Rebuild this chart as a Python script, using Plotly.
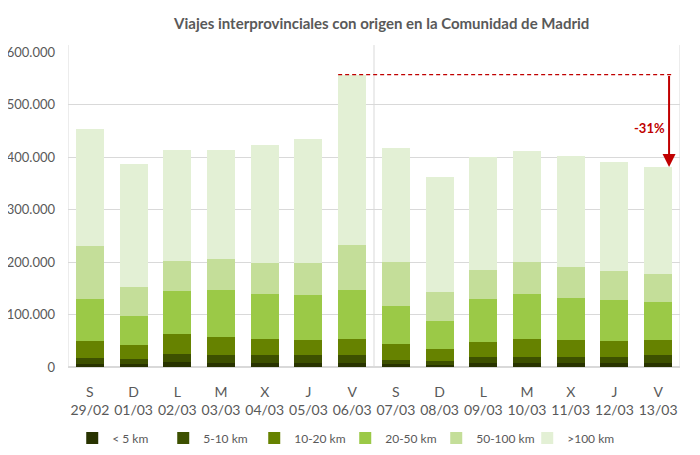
import plotly.graph_objects as go

# viajes por tramo de distancia, dia a dia
dias = ["S<br>29/02", "D<br>01/03", "L<br>02/03", "M<br>03/03", "X<br>04/03",
        "J<br>05/03", "V<br>06/03", "S<br>07/03", "D<br>08/03", "L<br>09/03",
        "M<br>10/03", "X<br>11/03", "J<br>12/03", "V<br>13/03"]

menos_5 = [5000, 5000, 9000, 7000, 7000, 7000, 7000, 5000, 3000, 7000, 7000, 7000, 7000, 7000]
de_5_10 = [13000, 11000, 16000, 16000, 15000, 15000, 15000, 9000, 9000, 13000, 13000, 13000, 13000, 15000]
de_10_20 = [32000, 25000, 37000, 35000, 32000, 30000, 32000, 29000, 23000, 28000, 34000, 32000, 30000, 30000]
de_20_50 = [80000, 57000, 83000, 89000, 86000, 86000, 93000, 74000, 53000, 82000, 86000, 80000, 78000, 72000]
de_50_100 = [100000, 55000, 56000, 59000, 59000, 61000, 86000, 83000, 55000, 55000, 60000, 59000, 55000, 54000]
mas_100 = [224000, 234000, 213000, 208000, 224000, 236000, 324000, 218000, 219000, 215000, 212000, 211000, 208000, 203000]

series = [
    ("< 5 km", menos_5, "#283300"),
    ("5-10 km", de_5_10, "#3d5000"),
    ("10-20 km", de_10_20, "#668200"),
    ("20-50 km", de_20_50, "#9bc947"),
    ("50-100 km", de_50_100, "#c4de99"),
    (">100 km", mas_100, "#e3f0d5"),
]

x = list(range(len(dias)))
totales = [sum(v) for v in zip(menos_5, de_5_10, de_10_20, de_20_50, de_50_100, mas_100)]

fig = go.Figure()
for nombre, valores, color in series:
    fig.add_trace(go.Bar(x=x, y=valores, name=nombre, marker_color=color,
                         marker_line_width=0))

gris = "#595959"
red = "#c00000"
pico = totales[6]
ultimo = totales[-1]

# page body has an 8px margin, so the figure is drawn 8px smaller
fig.update_layout(
    barmode="stack",
    bargap=0.36,
    width=692, height=447,
    margin=dict(l=60, r=20, t=44, b=88, autoexpand=False),
    paper_bgcolor="white", plot_bgcolor="white",
    separators=",.",
    font=dict(family="Lato", size=13, color=gris),
    title=dict(text="<b>Viajes interprovinciales con origen en la Comunidad de Madrid</b>",
               x=0.54, xanchor="center", y=0.965, yanchor="middle",
               font=dict(size=15, color=gris)),
    xaxis=dict(tickmode="array", tickvals=x, ticktext=dias, range=[-0.5, 13.5],
               showgrid=False, showline=False, ticks="", tickfont=dict(size=14),
               ticklabelstandoff=15, automargin=False),
    yaxis=dict(range=[0, 600000], dtick=100000, tickformat=",d",
               gridcolor="#d9d9d9", gridwidth=1, zeroline=True,
               zerolinecolor="#d9d9d9", showline=False, ticks="",
               tickfont=dict(size=13), ticklabelstandoff=12, automargin=False),
    legend=dict(orientation="h", x=0.453, xanchor="center", yref="container",
                y=0.038, yanchor="middle",
                font=dict(size=12), traceorder="normal", itemwidth=30,
                entrywidth=46, entrywidthmode="pixels"),
    showlegend=True,
)

top = 1.022
for xv in [-0.5, 6.5, 13.5]:
    fig.add_shape(type="line", xref="x", yref="paper", x0=xv, x1=xv, y0=0, y1=top,
                  line=dict(color="#d9d9d9", width=1), layer="below")

fig.add_shape(type="line", xref="x", yref="y", x0=6 - 0.32, x1=13 + 0.33,
              y0=pico, y1=pico, line=dict(color=red, width=1.2, dash="4px,3px"))
fig.add_annotation(x=13.25, y=ultimo, ax=13.25, ay=pico, xref="x", yref="y",
                   axref="x", ayref="y", showarrow=True, arrowhead=2,
                   arrowsize=1.3, arrowwidth=2, arrowcolor=red, text="")
fig.add_annotation(x=13.2, y=(pico + ultimo) / 2 - 14000, xref="x", yref="y",
                   text="<b>-31%</b>", showarrow=False, xanchor="right",
                   font=dict(size=13, color=red))

fig.write_html("out.html")
